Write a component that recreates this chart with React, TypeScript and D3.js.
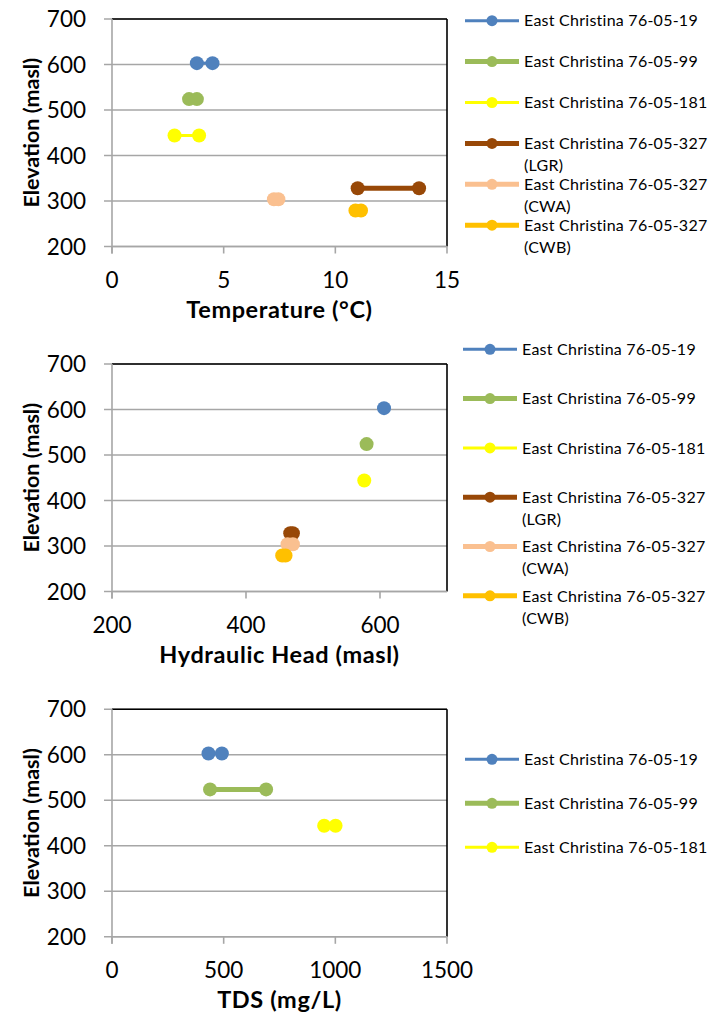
import React from "react";
import * as d3 from "d3";

const seriesNames = [
  "East Christina 76-05-19",
  "East Christina 76-05-99",
  "East Christina 76-05-181",
  "East Christina 76-05-327",
  "East Christina 76-05-327",
  "East Christina 76-05-327",
];
const seriesSub = ["", "", "", "(LGR)", "(CWA)", "(CWB)"];
const seriesColors = ["#4F81BD", "#9BBB59", "#FFFF00", "#984807", "#FAC090", "#FFC000"];
const seriesWidths = [3, 5, 3, 5, 5, 5];

const elevations = [603, 524, 444, 328, 304, 279];

const temperatureValues = [
  [3.8, 4.5],
  [3.45, 3.8],
  [2.8, 3.9],
  [11.0, 13.75],
  [7.25, 7.45],
  [10.9, 11.15],
];
const headValues = [
  [606],
  [580],
  [576.5],
  [466, 470],
  [462, 470],
  [454, 459],
];
const tdsValues = [
  [432, 492],
  [439, 690],
  [950, 1001],
];

const yTicks = [200, 300, 400, 500, 600, 700];
const tempTicks = [0, 5, 10, 15];
const headTicks = [200, 400, 600];
const tdsTicks = [0, 500, 1000, 1500];

const FONT = "Lato, 'Open Sans', sans-serif";

type PanelProps = {
  top: number;
  xDomain: [number, number];
  xTicks: number[];
  xTitle: string;
  values: number[][];
  legendStart: number;
  legendStep: number;
  legendX: number;
};

function Panel({ top, xDomain, xTicks, xTitle, values, legendStart, legendStep, legendX }: PanelProps) {
  const left = 112;
  const right = 447;
  const height = 227.5;
  const x = d3.scaleLinear().domain(xDomain).range([left, right]);
  const y = d3.scaleLinear().domain([200, 700]).range([top + height, top]);
  const line = d3
    .line<number>()
    .x((d) => x(d))
    .y(() => 0);
  const gridColor = "#A6A6A6";
  return (
    <g>
      {yTicks.map((t) => (
        <line key={"g" + t} x1={left - 8} x2={right} y1={y(t)} y2={y(t)} stroke={gridColor} strokeWidth={1.6} />
      ))}
      <line x1={left} x2={right} y1={top} y2={top} stroke="#000" strokeWidth={1.6} />
      <line x1={right} x2={right} y1={top} y2={top + height} stroke="#000" strokeWidth={1.6} />
      <line x1={left} x2={left} y1={top} y2={top + height + 7} stroke={gridColor} strokeWidth={1.6} />
      <line x1={left} x2={right} y1={top + height} y2={top + height} stroke={gridColor} strokeWidth={1.6} />
      {xTicks.map((t) => (
        <line key={"xt" + t} x1={x(t)} x2={x(t)} y1={top + height} y2={top + height + 7} stroke={gridColor} strokeWidth={1.6} />
      ))}
      {yTicks.map((t) => (
        <text key={"yl" + t} x={86} y={y(t)} dy="0.36em" textAnchor="end" fontSize={22.5} fontFamily={FONT} fill="#000">
          {t}
        </text>
      ))}
      {xTicks.map((t) => (
        <text key={"xl" + t} x={x(t)} y={top + height + 41} textAnchor="middle" fontSize={22.5} fontFamily={FONT} fill="#000">
          {t}
        </text>
      ))}
      <text
        transform={`translate(31,${top + height / 2}) rotate(-90)`}
        dy="0.36em"
        textAnchor="middle"
        fontSize={21.5}
        fontWeight="bold"
        fontFamily={FONT}
      >
        Elevation (masl)
      </text>
      <text
        x={(left + right) / 2}
        y={top + height + 71}
        textAnchor="middle"
        fontSize={23.5}
        letterSpacing={0.6}
        fontWeight="bold"
        fontFamily={FONT}
      >
        {xTitle}
      </text>
      {values.map((vals, i) => (
        <g key={"s" + i} transform={`translate(0,${y(elevations[i])})`}>
          {vals.length > 1 && (
            <path d={line(vals) || ""} stroke={seriesColors[i]} strokeWidth={seriesWidths[i]} fill="none" />
          )}
          {vals.map((v, j) => (
            <circle key={j} cx={x(v)} cy={0} r={7} fill={seriesColors[i]} />
          ))}
        </g>
      ))}
      {values.map((_, i) => {
        const ly = legendStart + i * legendStep;
        return (
          <g key={"l" + i}>
            <line x1={legendX} x2={legendX + 54} y1={ly} y2={ly} stroke={seriesColors[i]} strokeWidth={seriesWidths[i]} />
            <circle cx={legendX + 27} cy={ly} r={5.5} fill={seriesColors[i]} />
            <text x={legendX + 59} y={ly} dy="0.36em" fontSize={16} letterSpacing={0.25} fontFamily={FONT} fill="#000">
              {seriesNames[i]}
            </text>
            {seriesSub[i] && (
              <text x={legendX + 59} y={ly + 22} dy="0.36em" fontSize={16} letterSpacing={0.25} fontFamily={FONT} fill="#000">
                {seriesSub[i]}
              </text>
            )}
          </g>
        );
      })}
    </g>
  );
}

export default function App() {
  return (
    <svg
      width={724}
      height={1014}
      style={{ position: "absolute", left: 0, top: 0, background: "#fff" }}
    >
      <rect width={724} height={1014} fill="#fff" />
      <Panel
        top={19}
        xDomain={[0, 15]}
        xTicks={tempTicks}
        xTitle="Temperature (°C)"
        values={temperatureValues}
        legendStart={20.7}
        legendStep={40.9}
        legendX={465}
      />
      <Panel
        top={364}
        xDomain={[200, 700]}
        xTicks={headTicks}
        xTitle="Hydraulic Head (masl)"
        values={headValues}
        legendStart={349.3}
        legendStep={49.3}
        legendX={463}
      />
      <Panel
        top={709.3}
        xDomain={[0, 1500]}
        xTicks={tdsTicks}
        xTitle="TDS (mg/L)"
        values={tdsValues}
        legendStart={759.3}
        legendStep={44}
        legendX={465}
      />
    </svg>
  );
}
